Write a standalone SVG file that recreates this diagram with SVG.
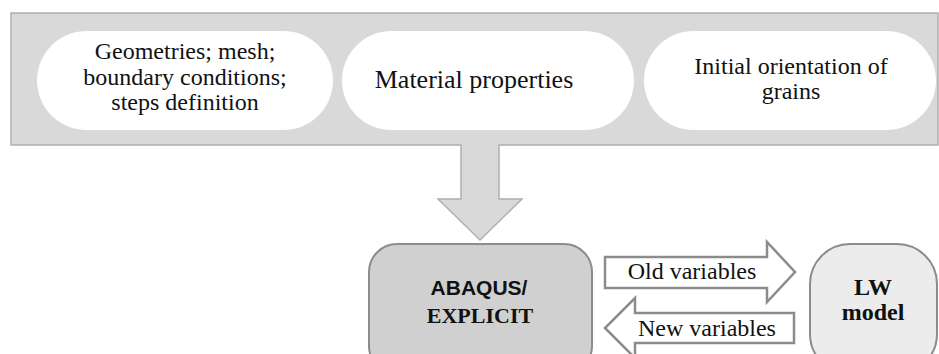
<svg xmlns="http://www.w3.org/2000/svg" width="939" height="354" viewBox="0 0 939 354">
<style>
.pill{fill:#ffffff}
.t{font-family:"Liberation Serif","Times New Roman",serif;font-size:24px;fill:#111;text-anchor:middle}
.tb{font-family:"Liberation Serif","Times New Roman",serif;font-size:22px;font-weight:bold;fill:#111;text-anchor:middle}
.ts{font-family:"Liberation Sans",Arial,sans-serif;font-size:21px;font-weight:bold;fill:#111;text-anchor:middle}
.flow{fill:#ffffff;stroke:#8c8c8c;stroke-width:2.5}
.box{stroke:#8c8c8c;stroke-width:2}
</style>
<g id="input-panel">
<path d="M11 13 H938 V145 H499 V199 H522 L480 240 L438 199 H461 V145 H11 Z" fill="#d9d9d9" stroke="#b0b0b0" stroke-width="1.5"/>
</g>
<g id="node-geometries">
<rect class="pill" x="37" y="31" width="296" height="99" rx="49.5"/>
<text class="t" x="185" y="59">Geometries; mesh;</text>
<text class="t" x="185" y="85">boundary conditions;</text>
<text class="t" x="185" y="110">steps definition</text>
</g>
<g id="node-material">
<rect class="pill" x="342" y="31" width="292" height="99" rx="49.5"/>
<text class="t" x="474" y="88" style="font-size:26px">Material properties</text>
</g>
<g id="node-orientation">
<rect class="pill" x="644" y="31" width="292" height="99" rx="49.5"/>
<text class="t" x="791" y="74">Initial orientation of</text>
<text class="t" x="791" y="99">grains</text>
</g>
<g id="node-abaqus">
<rect class="box" x="369" y="244" width="223" height="130" rx="28" fill="#d0d0d0"/>
<text class="ts" x="479" y="295">ABAQUS/</text>
<text class="tb" x="480" y="323">EXPLICIT</text>
</g>
<g id="node-lw">
<rect class="box" x="810" y="244" width="127" height="130" rx="40" fill="#ececec"/>
<text class="tb" x="873" y="295" style="font-size:24px">LW</text>
<text class="tb" x="873" y="320" style="font-size:24px">model</text>
</g>
<g id="connectors">
<path class="flow" d="M605 257 H767 V242 L795 272 L767 302 V288 H605 Z"/>
<text class="t" x="692" y="279">Old variables</text>
<path class="flow" d="M794 313 V343 H635 V358 L605 328 L635 298 V313 Z"/>
<text class="t" x="707" y="336">New variables</text>
</g>
</svg>
